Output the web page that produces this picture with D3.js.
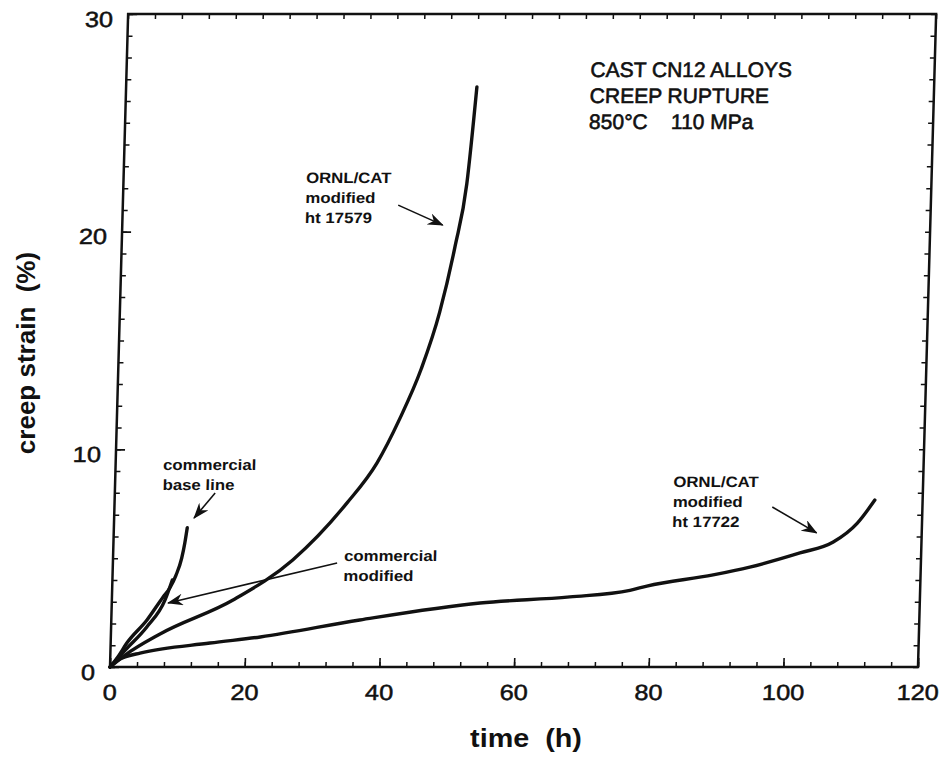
<!DOCTYPE html>
<html>
<head>
<meta charset="utf-8">
<script src="https://cdn.jsdelivr.net/npm/d3@7"></script>
<style>
body { margin: 0; background: #fff; }
text { font-family: Arial, "Liberation Sans", sans-serif; fill: #111; }
</style>
</head>
<body>
<script>
//SVG size
var w = 943, h = 763;

//creep curves: time (h) and creep strain (%)
var baseHours   = [0, 1.2, 2.4, 5.3, 7.6, 8.6, 9.4, 10.2, 10.6, 10.9];
var baseStrain  = [0, 0.5, 1.1, 2.16, 3.22, 3.65, 4.2, 5.0, 5.7, 6.4];

var modHours    = [0, 2.2, 5.3, 7.9, 8.9];
var modStrain   = [0, 0.78, 1.84, 3.08, 4.0];

var h579Hours   = [0, 2.2, 7.3, 18.0, 26.7, 34.5, 38.8, 42.0, 45.0, 47.5, 49.5, 51.0, 52.1];
var h579Strain  = [0, 0.55, 1.52, 3.08, 4.92, 7.53, 9.37, 11.4, 13.7, 16.3, 19.3, 22.2, 26.65];

var h722Hours   = [0, 1.2, 2.2, 4.4, 14.75, 22.2, 36.9, 54.7, 68.0, 76.9, 79.4, 89.2, 94.6, 102.0, 106.9, 110.4, 112.9];
var h722Strain  = [0, 0.32, 0.46, 0.64, 1.1, 1.38, 2.16, 2.94, 3.22, 3.52, 3.72, 4.23, 4.59, 5.24, 5.74, 6.61, 7.67];

//axis ticks
var xMinor = d3.range(0, 121, 4);
var xMajor = [0, 20, 40, 60, 80, 100, 120];
var yMinor = d3.range(0, 31, 1);
var yMajor = [0, 10, 20, 30];

//annotation text
var titleLines = ["CAST CN12 ALLOYS", "CREEP RUPTURE", "850\u00b0C    110 MPa"];
var noteLines = [
    ["commercial", "base line"],
    ["commercial", "modified"],
    ["ORNL/CAT", "modified", "ht 17579"],
    ["ORNL/CAT", "modified", "ht 17722"]
];

var series = [
    {hours: baseHours, strain: baseStrain},
    {hours: modHours, strain: modStrain},
    {hours: h579Hours, strain: h579Strain},
    {hours: h722Hours, strain: h722Strain}
];

//where the notes sit and where their arrows point, in (h, %)
var noteAt    = [[7.06, 9.05], [34.3, 4.87], [27.1, 22.23], [82.9, 8.27]];
var arrowFrom = [[14.9, 7.99], [33.3, 4.78], [40.9, 21.22], [97.7, 7.35]];
var arrowTo   = [[11.86, 6.84], [8.35, 2.94], [47.6, 20.3], [104.4, 6.16]];

var svg = d3.select("body")
    .append("svg")
    .attr("width", w)
    .attr("height", h);

svg.append("defs").append("marker")
    .attr("id", "head")
    .attr("markerUnits", "userSpaceOnUse")
    .attr("viewBox", "0 0 16 12")
    .attr("refX", 15)
    .attr("refY", 6)
    .attr("markerWidth", 16)
    .attr("markerHeight", 12)
    .attr("orient", "auto")
    .append("path")
    .attr("d", "M0,0 L16,6 L0,12 L5,6 Z")
    .style("fill", "#111");

//the scanned frame leans a little, so the plot is skewed to match
var plot = svg.append("g")
    .attr("transform", "translate(110,667) skewX(-1.59)");

var x = d3.scaleLinear()
    .domain([0, 120])
    .range([0, 808]);

var y = d3.scaleLinear()
    .domain([0, 30])
    .range([0, -653]);

var stretch = "scale(1.12,1)"; //scan is a bit wider than tall

//minor ticks on all four sides, pointing in
function minor(axis, vals, tx, ty) {
    var g = plot.append("g")
        .attr("transform", "translate(" + tx + "," + ty + ")")
        .call(axis.tickValues(vals).tickSize(-5).tickFormat(""));
    g.select(".domain").remove();
    g.selectAll("line").style("stroke", "#111").style("stroke-width", 1.5);
    return g;
}
minor(d3.axisBottom(x), xMinor, 0, 0);
minor(d3.axisTop(x), xMinor, 0, y(30));
minor(d3.axisLeft(y), yMinor, 0, 0);
minor(d3.axisRight(y), yMinor, x(120), 0);

var xAxis = plot.append("g")
    .call(d3.axisBottom(x).tickValues(xMajor).tickSize(-9).tickPadding(17));
var yAxis = plot.append("g")
    .call(d3.axisLeft(y).tickValues(yMajor).tickSize(-9).tickPadding(13));

[xAxis, yAxis].forEach(function(g) {
    g.select(".domain").remove();
    g.selectAll("line").style("stroke", "#111").style("stroke-width", 1.6);
    g.selectAll("text")
        .attr("transform", "scale(1.15,1)")
        .style("font-size", "22px")
        .style("fill", "#111")
        .style("stroke", "#111")
        .style("stroke-width", 0.5);
});
yAxis.selectAll("text").attr("dy", "0.55em");

//frame
plot.append("rect")
    .attr("x", x(0))
    .attr("y", y(30))
    .attr("width", x(120) - x(0))
    .attr("height", y(0) - y(30))
    .style("fill", "none")
    .style("stroke", "#111")
    .style("stroke-width", 2.5);

var line = d3.line()
    .x(function(d){ return x(d[0]); })
    .y(function(d){ return y(d[1]); })
    .curve(d3.curveMonotoneX);

plot.selectAll(".curve")
    .data(series)
    .enter()
    .append("path")
    .attr("class", "curve")
    .attr("d", function(d){
        return line(d.hours.map(function(t, i){ return [t, d.strain[i]]; }));
    })
    .style("fill", "none")
    .style("stroke", "#111")
    .style("stroke-width", 3.4)
    .style("stroke-linejoin", "round")
    .style("stroke-linecap", "round");

//arrows
plot.selectAll(".arrow")
    .data(arrowFrom)
    .enter()
    .append("line")
    .attr("class", "arrow")
    .attr("x1", function(d){ return x(d[0]); })
    .attr("y1", function(d){ return y(d[1]); })
    .attr("x2", function(d, i){ return x(arrowTo[i][0]); })
    .attr("y2", function(d, i){ return y(arrowTo[i][1]); })
    .attr("marker-end", "url(#head)")
    .style("stroke", "#111")
    .style("stroke-width", 1.6);

//notes
var notes = plot.selectAll(".note")
    .data(noteLines)
    .enter()
    .append("text")
    .attr("class", "note")
    .attr("transform", function(d, i){
        return "translate(" + x(noteAt[i][0]) + "," + y(noteAt[i][1]) + ") " + stretch;
    })
    .style("font-size", "15px")
    .style("font-weight", "bold");

notes.selectAll("tspan")
    .data(function(d){ return d; })
    .enter()
    .append("tspan")
    .attr("x", 0)
    .attr("dy", function(d, i){ return i ? 20 : 0; })
    .text(function(d){ return d; });

//title block
var title = plot.append("text")
    .attr("transform", "translate(" + x(68.9) + "," + y(27.1) + ")")
    .style("font-size", "21px")
    .style("stroke", "#111")
    .style("stroke-width", 0.6);

title.selectAll("tspan")
    .data(titleLines)
    .enter()
    .append("tspan")
    .attr("x", 0)
    .attr("dy", function(d, i){ return i ? 26 : 0; })
    .style("white-space", "pre")
    .text(function(d){ return d; });

//axis titles
svg.append("text")
    .attr("transform", "translate(526,747) scale(1.15,1)")
    .attr("text-anchor", "middle")
    .style("font-size", "25px")
    .style("font-weight", "bold")
    .style("white-space", "pre")
    .text("time  (h)");

svg.append("text")
    .attr("transform", "translate(35,353) rotate(-90)")
    .attr("text-anchor", "middle")
    .style("font-size", "26px")
    .style("font-weight", "bold")
    .style("white-space", "pre")
    .text("creep strain  (%)");
</script>
</body>
</html>
